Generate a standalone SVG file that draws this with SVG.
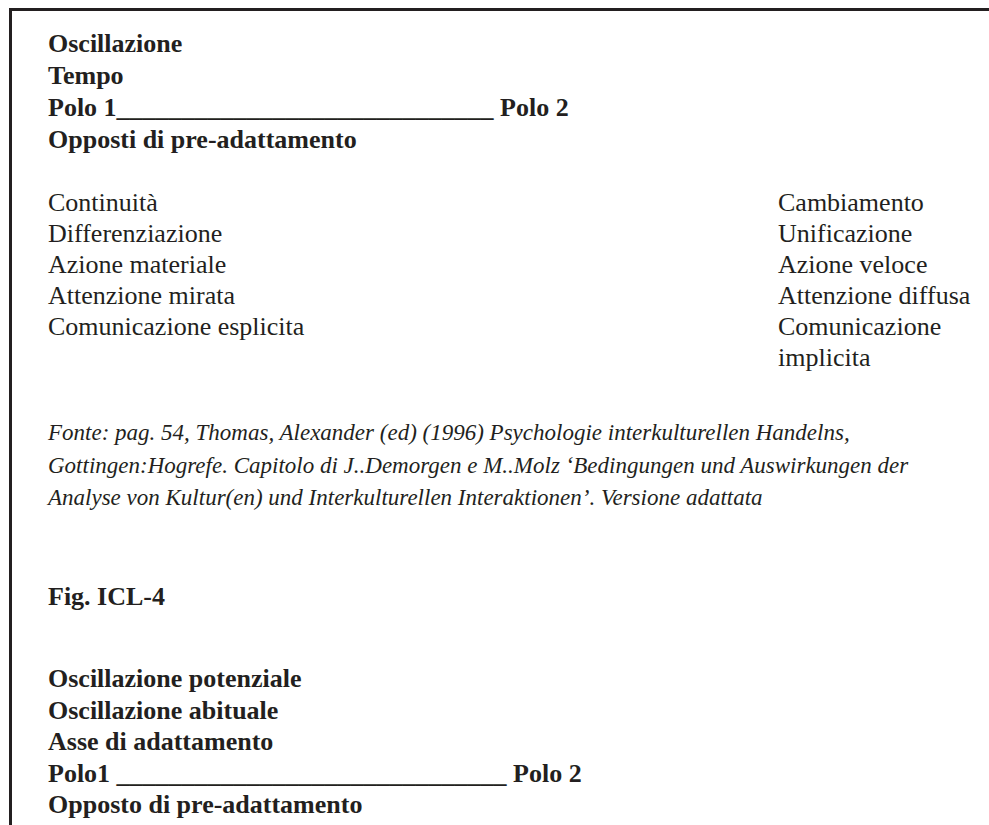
<svg xmlns="http://www.w3.org/2000/svg" width="989" height="825" viewBox="0 0 989 825">
<style>
.b{font-family:"Liberation Serif","Times New Roman",serif;font-size:26px;font-weight:bold;fill:#231f20}
.r{font-family:"Liberation Serif","Times New Roman",serif;font-size:26px;fill:#231f20}
.i{font-family:"Liberation Serif","Times New Roman",serif;font-size:23px;font-style:italic;fill:#231f20}
.frame{stroke:#231f20;stroke-width:3;fill:none}
</style>
<rect width="989" height="825" fill="#fff"/>
<g id="frame">
<path class="frame" d="M10.5 825 V9.5 H989"/>
</g>
<g id="header">
<text class="b" x="48" y="52">Oscillazione</text>
<text class="b" x="48" y="84">Tempo</text>
<text class="b" x="48" y="116" xml:space="preserve">Polo 1_____________________________ Polo 2</text>
<text class="b" x="48" y="148">Opposti di pre-adattamento</text>
</g>
<g id="left-column">
<text class="r" x="48" y="211">Continuità</text>
<text class="r" x="48" y="242">Differenziazione</text>
<text class="r" x="48" y="273">Azione materiale</text>
<text class="r" x="48" y="304">Attenzione mirata</text>
<text class="r" x="48" y="335">Comunicazione esplicita</text>
</g>
<g id="right-column">
<text class="r" x="778" y="211">Cambiamento</text>
<text class="r" x="778" y="242">Unificazione</text>
<text class="r" x="778" y="273">Azione veloce</text>
<text class="r" x="778" y="304">Attenzione diffusa</text>
<text class="r" x="778" y="335">Comunicazione</text>
<text class="r" x="778" y="366">implicita</text>
</g>
<g id="source">
<text class="i" x="48" y="440">Fonte: pag. 54, Thomas, Alexander (ed) (1996) Psychologie interkulturellen Handelns,</text>
<text class="i" x="48" y="473">Gottingen:Hogrefe. Capitolo di J..Demorgen e M..Molz ‘Bedingungen und Auswirkungen der</text>
<text class="i" x="48" y="505">Analyse von Kultur(en) und Interkulturellen Interaktionen’. Versione adattata</text>
</g>
<g id="fig-label">
<text class="b" x="48" y="605">Fig. ICL-4</text>
</g>
<g id="footer">
<text class="b" x="48" y="687">Oscillazione potenziale</text>
<text class="b" x="48" y="719">Oscillazione abituale</text>
<text class="b" x="48" y="750">Asse di adattamento</text>
<text class="b" x="48" y="782" xml:space="preserve">Polo1 ______________________________ Polo 2</text>
<text class="b" x="48" y="813">Opposto di pre-adattamento</text>
</g>
</svg>
